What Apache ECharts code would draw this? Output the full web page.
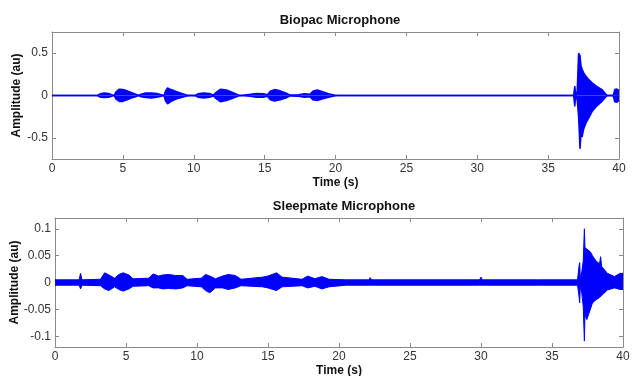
<!DOCTYPE html>
<html>
<head>
<meta charset="utf-8">
<script src="https://cdn.jsdelivr.net/npm/echarts@6.0.0/dist/echarts.min.js"></script>
<style>
  html, body { margin: 0; padding: 0; background: #fff; }
  #chart { width: 636px; height: 376px; }
</style>
</head>
<body>
<div id="chart"></div>
<script>
// Biopac microphone: envelope (time s, upper, lower)
const bioTime = [0, 3.2, 3.4, 3.7, 4.0, 4.2, 4.4, 4.5, 4.75, 5.0, 5.3, 5.6, 5.9, 6.1, 6.3, 6.6, 7.0, 7.4, 7.7, 7.9,
  8.0, 8.15, 8.4, 8.8, 9.2, 9.5, 10.1, 10.3, 10.7, 11.1, 11.4, 11.6, 11.9, 12.3, 12.7, 13.1, 13.3, 14.0, 14.4, 14.9,
  15.2, 15.4, 15.7, 16.1, 16.5, 16.8, 17.4, 17.8, 18.2, 18.4, 18.7, 19.1, 19.5, 19.9, 20.2, 22.1, 22.2, 22.3,
  36.8, 36.88, 36.95, 37.05, 37.15, 37.25, 37.32, 37.4, 37.5, 37.66, 37.85, 38.1, 38.4, 38.8, 39.0, 39.15, 39.6,
  39.7, 39.85, 40];
const bioHi = [0, 0, 0.02, 0.03, 0.025, 0.01, 0, 0.04, 0.075, 0.07, 0.055, 0.035, 0.015, 0, 0.015, 0.03, 0.03, 0.025, 0.01, 0,
  0.05, 0.09, 0.07, 0.045, 0.02, 0.005, 0, 0.02, 0.03, 0.025, 0.005, 0.04, 0.075, 0.065, 0.04, 0.01, 0, 0.015, 0.025, 0.02,
  0.01, 0.05, 0.07, 0.055, 0.03, 0.005, 0.01, 0.02, 0.015, 0.05, 0.065, 0.045, 0.02, 0.005, 0, 0, 0.01, 0,
  0, 0.11, 0, 0.05, 0.5, 0.47, 0.35, 0.31, 0.27, 0.23, 0.19, 0.15, 0.11, 0.07, 0.03, 0, 0.005,
  0.07, 0.076, 0.06];
const bioLo = [0, 0, -0.02, -0.025, -0.02, -0.01, 0, -0.04, -0.07, -0.07, -0.05, -0.03, -0.015, 0, -0.015, -0.025, -0.03, -0.02, -0.01, 0,
  -0.06, -0.1, -0.07, -0.04, -0.02, -0.005, 0, -0.02, -0.03, -0.02, -0.005, -0.04, -0.075, -0.06, -0.035, -0.01, 0, -0.01, -0.02, -0.02,
  -0.01, -0.05, -0.065, -0.05, -0.03, -0.005, -0.01, -0.02, -0.015, -0.05, -0.06, -0.04, -0.02, -0.005, 0, 0, -0.01, 0,
  0, -0.13, 0, -0.05, -0.25, -0.63, -0.45, -0.49, -0.4, -0.33, -0.27, -0.19, -0.13, -0.07, -0.03, 0, -0.005,
  -0.075, -0.08, -0.06];

// Sleepmate microphone envelope
const sleepTime = [0, 1.7, 1.8, 1.9, 3.2, 3.5, 3.8, 4.2, 4.5, 4.8, 5.2, 5.5, 6.6, 6.9, 7.3, 7.6, 8.0, 8.5, 9.0, 9.3,
  10.3, 10.6, 10.9, 11.3, 11.8, 12.2, 12.7, 13.1, 14.6, 15.0, 15.6, 16.0, 17.4, 17.8, 18.3, 18.8, 19.3, 20.5, 22.1,
  22.2, 22.3, 29.9, 30.0, 30.1, 33.9, 34.0, 34.1,
  36.8, 36.9, 36.95, 37.0, 37.1, 37.2, 37.28, 37.32, 37.45, 37.7, 37.85, 38.1, 38.35, 38.42, 38.5, 38.9, 39.4, 39.8, 40];
const sleepHi = [0.005, 0.005, 0.017, 0.005, 0.006, 0.018, 0.014, 0.008, 0.015, 0.018, 0.014, 0.007, 0.008, 0.016, 0.012, 0.014, 0.015, 0.013, 0.013, 0.006,
  0.008, 0.015, 0.012, 0.007, 0.012, 0.015, 0.013, 0.006, 0.01, 0.012, 0.018, 0.01, 0.006, 0.012, 0.007, 0.011, 0.006, 0.005, 0.005,
  0.009, 0.005, 0.005, 0.01, 0.005, 0.005, 0.008, 0.005,
  0.005, 0.03, 0.037, 0.006, 0.02, 0.04, 0.1, 0.065, 0.067, 0.057, 0.05, 0.04, 0.035, 0.048, 0.03, 0.017, 0.011, 0.017, 0.017];
const sleepLo = [-0.005, -0.005, -0.012, -0.005, -0.006, -0.012, -0.015, -0.008, -0.013, -0.016, -0.012, -0.007, -0.006, -0.01, -0.01, -0.012, -0.011, -0.012, -0.01, -0.006,
  -0.008, -0.015, -0.019, -0.01, -0.01, -0.013, -0.01, -0.006, -0.008, -0.01, -0.015, -0.008, -0.006, -0.01, -0.007, -0.012, -0.008, -0.005, -0.005,
  -0.006, -0.005, -0.005, -0.008, -0.005, -0.005, -0.006, -0.005,
  -0.005, -0.025, -0.038, -0.006, -0.02, -0.045, -0.109, -0.06, -0.069, -0.05, -0.038, -0.032, -0.028, -0.026, -0.024, -0.014, -0.01, -0.013, -0.013];

const bioTicks = [-0.5, 0, 0.5];
const sleepTicks = [-0.1, -0.05, 0, 0.05, 0.1];

const FONT = 'Liberation Sans, Arial, sans-serif';
const BLUE = '#0000ff';
const BOX = '#8a8a8a';
const LABEL = '#333333';

const chart = echarts.init(document.getElementById('chart'), null, { renderer: 'canvas' });

function pairs(t, v) {
  return t.map((x, i) => [x, v[i]]);
}

function xAxes(grid) {
  const base = {
    type: 'value', gridIndex: grid, min: 0, max: 40, interval: 5,
    splitLine: { show: false },
    axisLine: { show: true, onZero: false, lineStyle: { color: BOX, width: 1 } },
    axisTick: { inside: true, length: 4, lineStyle: { color: BOX } },
  };
  return [
    Object.assign({}, base, {
      position: 'bottom',
      name: 'Time (s)', nameLocation: 'middle', nameGap: 18,
      nameTextStyle: { fontFamily: FONT, fontSize: 12, fontWeight: 'bold', color: '#111' },
      axisLabel: { fontFamily: FONT, fontSize: 12, color: LABEL, margin: 4 },
    }),
    Object.assign({}, base, { position: 'top', axisLabel: { show: false } }),
  ];
}

function yAxes(grid, lim, ticks, gap) {
  const base = {
    type: 'value', gridIndex: grid, min: -lim, max: lim,
    splitLine: { show: false },
    axisLine: { show: true, onZero: false, lineStyle: { color: BOX, width: 1 } },
    axisTick: { show: true, inside: true, length: 4, lineStyle: { color: BOX },
      customValues: ticks },
  };
  return [
    Object.assign({}, base, {
      position: 'left',
      name: 'Amplitude (au)', nameLocation: 'middle', nameGap: gap, nameMoveOverlap: false,
      nameTextStyle: { fontFamily: FONT, fontSize: 12, fontWeight: 'bold', color: '#111' },
      axisLabel: { fontFamily: FONT, fontSize: 12, color: LABEL, margin: 4, customValues: ticks },
    }),
    Object.assign({}, base, { position: 'right', axisLabel: { show: false } }),
  ];
}

// origin overlaps zero slightly so the upper and lower fills leave no seam
function wave(name, xi, yi, t, v, origin, width) {
  return {
    name, type: 'line', xAxisIndex: xi, yAxisIndex: yi,
    data: pairs(t, v), symbol: 'none', smooth: false, silent: true,
    color: BLUE,
    lineStyle: { color: BLUE, width },
    areaStyle: { color: BLUE, opacity: 1, origin },
    z: 1,
  };
}

const option = {
  backgroundColor: '#ffffff',
  animation: false,
  title: [
    { text: 'Biopac Microphone', left: 335, top: 9, textAlign: 'center',
      textStyle: { fontFamily: FONT, fontSize: 13, fontWeight: 'bold', color: '#111' } },
    { text: 'Sleepmate Microphone', left: 339, top: 195, textAlign: 'center',
      textStyle: { fontFamily: FONT, fontSize: 13, fontWeight: 'bold', color: '#111' } },
  ],
  grid: [
    { left: 52, top: 32, width: 567, height: 127, containLabel: false, outerBoundsMode: 'none' },
    { left: 55, top: 218, width: 568, height: 129, containLabel: false, outerBoundsMode: 'none' },
  ],
  xAxis: [...xAxes(0), ...xAxes(1)],
  yAxis: [...yAxes(0, 0.75, bioTicks, 29), ...yAxes(1, 0.12, sleepTicks, 34)],
  series: [
    wave('Biopac upper', 0, 0, bioTime, bioHi, 0, 1.5),
    wave('Biopac lower', 0, 0, bioTime, bioLo, 0, 1.5),
    wave('Sleepmate upper', 2, 2, sleepTime, sleepHi, -0.001, 1),
    wave('Sleepmate lower', 2, 2, sleepTime, sleepLo, 0.001, 1),
  ],
};

chart.setOption(option);
</script>
</body>
</html>
